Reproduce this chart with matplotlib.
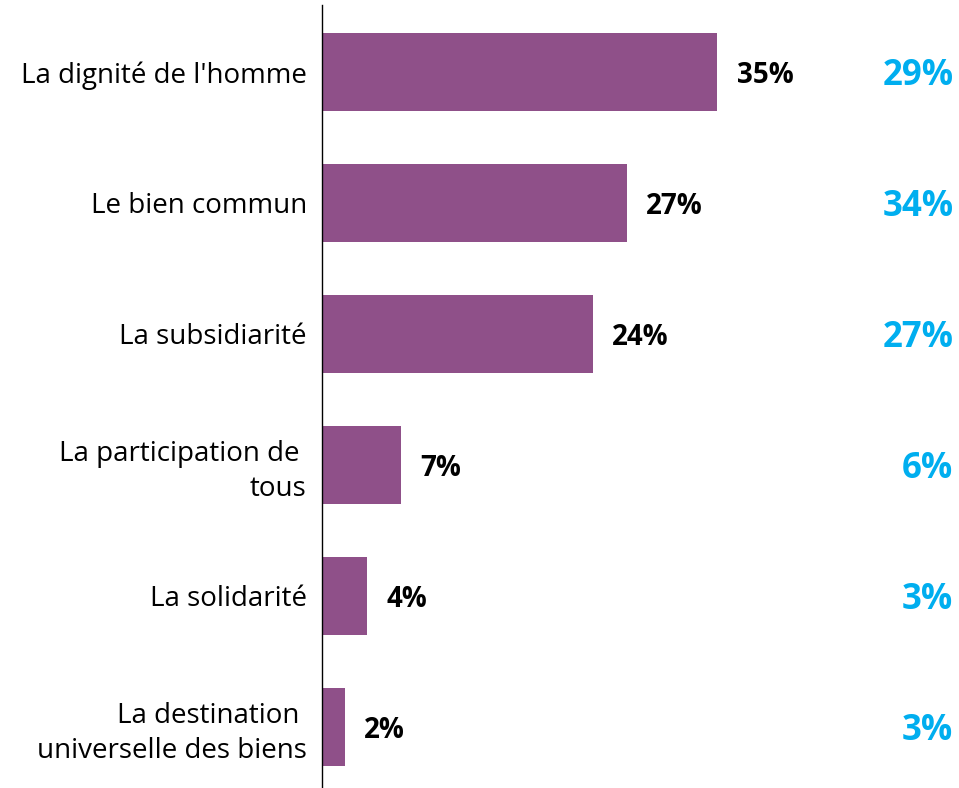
import matplotlib
matplotlib.use('Agg')
import matplotlib.pyplot as plt

categories = ["La dignité de l'homme", "Le bien commun", "La subsidiarité",
              "La participation de \ntous", "La solidarité",
              "La destination \nuniverselle des biens"]
values = [35, 27, 24, 7, 4, 2]
other_values = [29, 34, 27, 6, 3, 3]

purple = '#8F5089'
cyan = '#00AEEF'

plt.rcParams['font.family'] = ['Open Sans', 'DejaVu Sans']

fig = plt.figure(figsize=(9.59, 7.88), dpi=100)
ax = fig.add_axes([0.3358, 0.0, 0.6642, 0.9937])

y = list(range(len(categories)))
ax.barh(y, values, height=0.6, color=purple)
ax.set_xlim(0, 56.4)
ax.set_ylim(5.466, -0.511)

ax.set_yticks(y)
ax.set_yticklabels(categories, fontsize=20, ha='right', linespacing=1.3)
ax.tick_params(axis='y', length=0, pad=11)
ax.set_xticks([])

for s in ['top', 'right', 'bottom']:
    ax.spines[s].set_visible(False)
ax.spines['left'].set_color('black')
ax.spines['left'].set_linewidth(1)

for yi, v in zip(y, values):
    ax.text(v + 1.7, yi + 0.03, f'{v}%', va='center', ha='left',
            fontsize=20, fontweight='bold', color='black')

for yi, v in zip(y, other_values):
    ax.text(55.9, yi + 0.03, f'{v}%', va='center', ha='right',
            fontsize=25, fontweight='bold', color=cyan)

fig.savefig('out.png', dpi=100)
